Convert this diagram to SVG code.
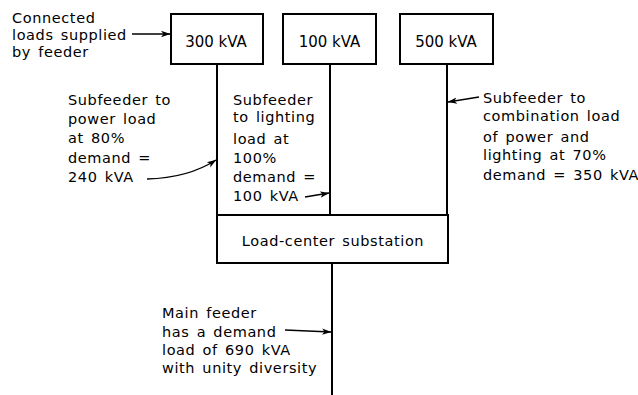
<svg xmlns="http://www.w3.org/2000/svg" width="638" height="395" viewBox="0 0 638 395">
<defs>
<marker id="ah" markerWidth="10" markerHeight="8" refX="9" refY="4" orient="auto" markerUnits="userSpaceOnUse">
<path d="M0,0.8 L9.5,4 L0,7.2 L2.5,4 z" fill="#000"/>
</marker>
<style>
.box{fill:#fff;stroke:#000;stroke-width:2}
.wire{fill:none;stroke:#000;stroke-width:2}
.lead{fill:none;stroke:#000;stroke-width:1.3;marker-end:url(#ah)}
text{font-family:"DejaVu Sans","Liberation Sans",sans-serif;font-size:14.5px;letter-spacing:0.6px;word-spacing:2px;fill:#000}
.bl{font-size:15px;letter-spacing:0;word-spacing:0;text-anchor:middle}
.c{text-anchor:middle}
</style>
</defs>
<rect width="638" height="395" fill="#fff"/>
<g id="connectors">
<line class="wire" x1="217" y1="64" x2="217" y2="215"/>
<line class="wire" x1="330" y1="64" x2="330" y2="215"/>
<line class="wire" x1="447" y1="64" x2="447" y2="215"/>
<line class="wire" x1="332" y1="263" x2="332" y2="395"/>
<path class="lead" d="M132,34 L170,34"/>
<path class="lead" d="M147,179 Q188,178 216,160"/>
<path class="lead" d="M305,197 L329,193"/>
<path class="lead" d="M479,97 L448,102"/>
<path class="lead" d="M285,330 L331,332"/>
</g>
<g id="load300">
<rect class="box" x="171" y="14" width="92" height="50"/>
<text class="bl" x="216" y="47">300 kVA</text>
</g>
<g id="load100">
<rect class="box" x="283" y="14" width="93" height="50"/>
<text class="bl" x="329.5" y="47">100 kVA</text>
</g>
<g id="load500">
<rect class="box" x="400" y="14" width="93" height="50"/>
<text class="bl" x="446" y="47">500 kVA</text>
</g>
<g id="substation">
<rect class="box" x="217" y="215" width="231" height="48"/>
<text class="c" x="333" y="246">Load-center substation</text>
</g>
<g id="label-connected">
<text x="12" y="23">Connected</text>
<text x="12" y="40">loads supplied</text>
<text x="12" y="57">by feeder</text>
</g>
<g id="label-power">
<text x="68" y="105">Subfeeder to</text>
<text x="68" y="124">power load</text>
<text x="68" y="143">at 80%</text>
<text x="68" y="163">demand =</text>
<text x="68" y="182">240 kVA</text>
</g>
<g id="label-lighting">
<text x="233" y="105">Subfeeder</text>
<text x="233" y="122">to lighting</text>
<text x="233" y="144">load at</text>
<text x="233" y="163">100%</text>
<text x="233" y="182">demand =</text>
<text x="233" y="201">100 kVA</text>
</g>
<g id="label-combination">
<text x="483" y="103">Subfeeder to</text>
<text x="483" y="121">combination load</text>
<text x="483" y="142">of power and</text>
<text x="483" y="160">lighting at 70%</text>
<text x="483" y="180">demand = 350 kVA</text>
</g>
<g id="label-main">
<text x="162" y="318">Main feeder</text>
<text x="162" y="337">has a demand</text>
<text x="162" y="355">load of 690 kVA</text>
<text x="162" y="373">with unity diversity</text>
</g>
</svg>
